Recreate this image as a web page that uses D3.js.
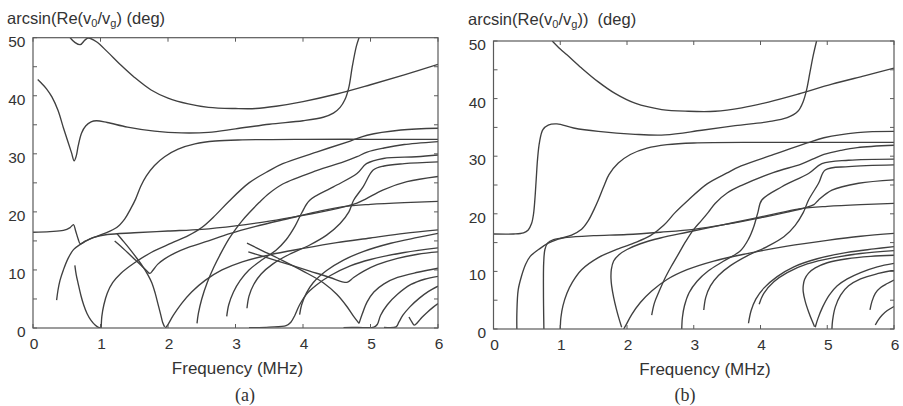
<!DOCTYPE html>
<html>
<head>
<meta charset="utf-8">
<script src="https://cdn.jsdelivr.net/npm/d3@7/dist/d3.min.js"></script>
<style>
  html, body { margin: 0; padding: 0; background: #fff; }
  svg { display: block; }
  .tick-label { font-family: "Liberation Sans", Arial, sans-serif; font-size: 15.5px; fill: #333; }
  .axis-title { font-family: "Liberation Sans", Arial, sans-serif; font-size: 16.5px; fill: #333; }
  .x-title { font-family: "Liberation Sans", Arial, sans-serif; font-size: 17px; fill: #333; }
  .panel-tag { font-family: "Liberation Serif", "Times New Roman", serif; font-size: 18px; fill: #333; }
</style>
</head>
<body>
<svg id="chart" width="903" height="406"></svg>
<script>
// Axis ticks (frequency in MHz, angle in degrees)
const xTickValues = [0, 1, 2, 3, 4, 5, 6];
const yTickValues = [0, 10, 20, 30, 40, 50];
const yMinorTicks = [5, 15, 25, 35, 45];
const xDomain = [0, 6];
const yDomain = [0, 50];

// ---- Panel (a): mode branches as [frequency MHz, angle deg] ----
const aTop = [[0.55,50],[0.62,49.2],[0.7,48.8],[0.77,49.6],[0.82,49.95],[0.94,49.3],[1.1,47.6],[1.3,45.3],[1.5,43.2],[1.75,41],[2.0,39.6],[2.3,38.6],[2.6,38.0],[3.0,37.8],[3.3,37.8],[3.6,38.2],[4.0,39.0],[4.5,40.3],[5.0,41.9],[5.5,43.6],[6.0,45.4]];
const aDip = [[0.07,42.8],[0.13,42.1],[0.2,41.2],[0.28,39.8],[0.37,37.5],[0.45,34.5],[0.52,32],[0.57,30.2],[0.61,28.8],[0.64,29.6],[0.67,31.4],[0.72,33.6],[0.78,34.8],[0.86,35.5],[0.94,35.7],[1.1,35.4],[1.4,34.6],[1.8,33.9],[2.2,33.6],[2.6,33.7],[3.0,34.3],[3.5,35.1],[4.0,35.7],[4.3,36.3],[4.45,37.0],[4.55,38.0],[4.62,39.3],[4.68,41.5],[4.73,45],[4.79,48.5],[4.83,50]];
const aFund = [[0.35,4.8],[0.37,6.5],[0.4,8.2],[0.45,10],[0.52,12],[0.6,13.5],[0.7,14.4],[0.84,15.3],[1.04,16.2],[1.24,17.3],[1.36,18.8],[1.45,20.6],[1.52,22.2],[1.6,24.5],[1.68,26.2],[1.8,28],[1.95,29.5],[2.15,30.8],[2.4,31.7],[2.7,32.2],[3.1,32.4],[4,32.5],[5,32.5],[6,32.5]];
const aFlatTop = [[0,16.5],[0.25,16.6],[0.45,16.8],[0.55,17.3],[0.6,17.8],[0.63,16.8],[0.67,15.3],[0.7,14.5],[0.78,15.0],[0.9,15.6],[1.1,16.1],[1.5,16.4],[2.0,16.7],[2.5,17.0],[3.0,17.6],[3.5,18.4],[4.0,19.4],[4.4,20.3],[4.65,21],[4.8,21.5],[4.94,22.3],[5.19,23.8],[5.54,25.2],[6,26.1]];
const aDrop = [[0.62,10.8],[0.64,9.2],[0.67,7.6],[0.71,5.6],[0.75,4.0],[0.8,2.5],[0.86,1.3],[0.92,0.5],[0.97,0.1],[1.0,0]];
const aRise1 = [[1.01,0],[1.02,2],[1.05,4],[1.1,6],[1.18,7.8],[1.3,9.4],[1.5,11.2],[1.75,13],[2.05,14.6],[2.3,15.9],[2.5,17.3],[2.7,19.4],[2.9,21.8],[3.2,25],[3.5,27.1],[3.7,28.3],[4.2,30.3],[4.7,32.2],[4.95,33.2],[5.45,34.1],[6,34.4]];
const aNotch = [[1.21,15.0],[1.3,14.1],[1.4,13.0],[1.5,11.9],[1.6,10.8],[1.68,9.9],[1.73,9.4],[1.78,10.0],[1.85,11.0],[1.95,11.9],[2.1,12.9],[2.3,13.9],[2.6,15.0],[2.9,16.2],[3.3,17.5],[3.8,18.9],[4.2,20.0],[4.6,20.9],[5.0,21.3],[5.5,21.6],[6,21.8]];
const aSlope1 = [[1.24,16.3],[1.32,15.2],[1.42,13.8],[1.52,12.3],[1.62,10.7],[1.7,9.2],[1.76,7.8],[1.81,6],[1.85,4.2],[1.89,2.4],[1.92,1.0],[1.95,0.2]];
const aRise2 = [[1.96,0],[2.0,0.6],[2.08,2.2],[2.2,4.2],[2.35,6.2],[2.55,8.2],[2.8,10],[3.1,11.4],[3.5,12.6],[4.0,13.7],[4.5,14.7],[5.0,15.5],[5.5,16.3],[6,16.9]];
const aSteep = [[2.43,0.8],[2.45,2.5],[2.5,5],[2.58,7.8],[2.68,10.5],[2.78,12.8],[2.9,15.3],[3.0,17],[3.1,18.5],[3.2,19.8],[3.35,21.6],[3.5,23.2],[3.7,24.8],[4.2,27.1],[4.6,28.6],[4.8,29.5],[4.95,30.3],[5.2,31],[5.5,31.6],[6,32.1]];
const aRise3 = [[2.87,2],[2.9,4],[2.97,6.2],[3.07,8.2],[3.2,10],[3.4,11.8],[3.6,13.4],[3.75,15.2],[3.88,17.5],[3.98,19.8],[4.1,22],[4.45,24.3],[4.8,26.6],[4.94,28.3],[5.19,29.2],[5.68,29.5],[6,29.8]];
const aRise4 = [[3.17,3.4],[3.2,5.5],[3.27,7.5],[3.38,9.3],[3.55,11],[3.8,12.7],[4.1,14.3],[4.35,16],[4.55,18],[4.68,20],[4.75,22],[4.89,24.3],[5.04,27.2],[5.2,27.9],[5.5,28.3],[6,28.6]];
const aFloor1 = [[3.2,0.05],[3.5,0.15],[3.75,0.4],[3.82,1],[3.88,2.2],[3.95,4],[4.05,5.8],[4.2,7.4],[4.4,9],[4.7,10.7],[5.0,11.8],[5.5,13],[6,13.8]];
const aRise5 = [[3.95,2.3],[3.98,4],[4.05,6],[4.15,7.8],[4.35,9.9],[4.6,11.7],[4.9,13.2],[5.3,14.6],[5.7,15.6],[6,16.3]];
const aSlope2 = [[3.17,14.6],[3.4,13.3],[3.7,11.6],[4.0,9.8],[4.3,7.8],[4.5,5.8],[4.65,3.7],[4.75,2],[4.83,0.8]];
const aSlope3 = [[3.19,13.1],[3.5,12.0],[3.8,10.9],[4.1,9.8],[4.4,8.7],[4.6,7.9],[4.66,7.9],[4.75,8.7],[4.9,9.8],[5.1,10.9],[5.4,12],[5.7,12.7],[6,13.1]];
const aRise6 = [[4.83,0.8],[4.88,2.5],[4.95,4.5],[5.05,6.2],[5.2,7.6],[5.4,8.7],[5.7,9.6],[6,10.3]];
const aFloor2 = [[4.6,0.05],[4.8,0.1],[5.05,0.15],[5.1,0.6],[5.15,2.2],[5.25,4],[5.4,5.8],[5.6,7.5],[5.8,8.4],[6,8.9]];
const aFloor3 = [[5.2,0.1],[5.38,0.2],[5.42,1],[5.48,2.2],[5.58,3.6],[5.72,5.1],[5.86,6.3],[6,7.2]];
const aKink = [[5.57,1.9],[5.61,1.1],[5.65,0.5],[5.7,1.0],[5.76,1.8],[5.85,2.8],[5.93,3.6],[6,4.2]];

const curvesA = [aTop, aDip, aFund, aFlatTop, aDrop, aRise1, aNotch, aSlope1, aRise2, aSteep, aRise3, aRise4, aFloor1, aRise5, aSlope2, aSlope3, aRise6, aFloor2, aFloor3, aKink];

// ---- Panel (b): mode branches as [frequency MHz, angle deg] ----
const bTop = [[0.88,50],[1.0,48.6],[1.1,47.6],[1.32,45.3],[1.57,42.9],[1.82,40.9],[2.12,39.2],[2.52,38.1],[2.92,37.8],[3.32,37.8],[3.72,38.4],[4.12,39.4],[4.57,40.8],[5.07,42.5],[5.57,44.0],[6,45.3]];
const bPlateau = [[0,16.5],[0.3,16.5],[0.45,16.7],[0.52,17.2],[0.57,18.3],[0.6,20],[0.62,22.5],[0.64,26],[0.66,29.5],[0.69,32.5],[0.74,34.6],[0.82,35.4],[0.95,35.6],[1.2,34.9],[1.57,34.3],[2.12,33.8],[2.57,33.7],[3.12,34.5],[3.62,35.3],[4.12,36.0],[4.4,36.7],[4.56,37.8],[4.64,39.5],[4.69,41.5],[4.74,44.5],[4.79,47.5],[4.84,50]];
const bFund = [[0.35,0],[0.35,2.7],[0.37,6.8],[0.42,9.2],[0.48,11.2],[0.55,12.6],[0.7,14.0],[0.82,14.9],[0.97,15.6],[1.17,16.3],[1.32,17.3],[1.42,18.8],[1.5,20.6],[1.57,22.4],[1.65,24.7],[1.73,26.8],[1.87,28.8],[2.05,30.3],[2.3,31.4],[2.6,32.0],[3.0,32.3],[4,32.4],[5,32.4],[6,32.4]];
const bWall = [[0.755,0],[0.75,4],[0.748,8],[0.752,11.5],[0.77,13.8],[0.81,14.9],[0.9,15.5],[1.1,15.9],[1.5,16.2],[2.0,16.4],[2.5,16.8],[3.0,17.3],[3.5,18.2],[4.0,19.3],[4.4,20.3],[4.65,21],[4.8,21.6],[4.87,22.4],[5.07,24.1],[5.47,25.3],[6,25.9]];
const bRise1 = [[1.0,0],[1.01,2],[1.04,4],[1.1,6.2],[1.18,8.1],[1.32,10.3],[1.57,12.4],[1.82,13.7],[2.1,14.9],[2.35,16.2],[2.55,18],[2.72,20.2],[2.92,22.4],[3.2,25.2],[3.5,27.1],[3.71,28.3],[4.2,30.3],[4.7,32.3],[4.95,33.2],[5.45,34.1],[6,34.3]];
const bHook = [[1.92,0.3],[1.88,1.8],[1.84,3.5],[1.8,5.5],[1.77,7.5],[1.76,8.8],[1.765,10.3],[1.8,11.8],[1.88,12.9],[2.0,13.8],[2.2,14.8],[2.5,15.8],[2.9,16.8],[3.4,18],[3.9,19.2],[4.3,20.2],[4.6,20.9],[5.0,21.3],[5.5,21.6],[6,21.8]];
const bRise2 = [[1.95,0],[1.99,0.8],[2.07,2.5],[2.2,4.6],[2.37,6.6],[2.6,8.6],[2.9,10.3],[3.3,11.8],[3.8,13.1],[4.4,14.4],[5.0,15.4],[5.5,16.1],[6,16.6]];
const bSteep = [[2.37,2.4],[2.41,4.5],[2.48,6.5],[2.56,8.6],[2.66,10.8],[2.77,13],[2.88,15.2],[3.0,17.3],[3.12,18.9],[3.22,20.3],[3.32,21.8],[3.5,23.6],[3.71,24.9],[4.2,27.2],[4.6,28.6],[4.8,29.6],[4.95,30.3],[5.2,31],[5.45,31.5],[6,31.9]];
const bRise3 = [[2.82,0],[2.83,2],[2.86,4],[2.93,6.3],[3.05,8.3],[3.22,10.1],[3.45,11.8],[3.7,13.6],[3.82,15.6],[3.9,17.8],[3.96,20.2],[4.02,22.4],[4.32,24.7],[4.72,27],[4.92,28.7],[5.32,29.3],[6,29.5]];
const bRise4 = [[3.15,3.3],[3.18,5.5],[3.25,7.5],[3.37,9.3],[3.55,11],[3.8,12.7],[4.1,14.3],[4.35,16],[4.52,18],[4.64,20.2],[4.72,22.4],[4.87,25.3],[4.97,27.6],[5.32,28.2],[6,28.5]];
const bRise5 = [[3.82,1],[3.86,3.2],[3.93,5.2],[4.05,7.1],[4.25,9.1],[4.5,10.8],[4.85,12.2],[5.3,13.3],[5.7,13.9],[6,14.3]];
const bRise6 = [[3.98,4.3],[4.05,6.2],[4.2,8.2],[4.4,9.8],[4.7,11.3],[5.1,12.4],[5.5,13.1],[6,13.6]];
const bHook2 = [[4.81,0.4],[4.77,1.5],[4.72,3],[4.67,4.8],[4.64,6.5],[4.64,7.5],[4.66,8.6],[4.72,9.7],[4.82,10.6],[5.0,11.5],[5.3,12.2],[5.65,12.6],[6,12.8]];
const bRise7 = [[4.82,0.3],[4.86,1.8],[4.93,3.8],[5.03,5.9],[5.15,7.5],[5.3,8.7],[5.5,9.8],[5.75,10.8],[6,11.4]];
const bRise8 = [[5.07,0],[5.08,1.5],[5.12,3.8],[5.2,5.9],[5.32,7.5],[5.5,8.7],[5.75,9.6],[6,10.2]];
const bRise9 = [[5.64,3.3],[5.67,4.8],[5.72,6.2],[5.8,7.2],[5.9,7.9],[6,8.5]];
const bRise10 = [[5.72,0.7],[5.76,1.5],[5.82,2.4],[5.9,3.2],[6,3.9]];

const curvesB = [bTop, bPlateau, bFund, bWall, bRise1, bHook, bRise2, bSteep, bRise3, bRise4, bRise5, bRise6, bHook2, bRise7, bRise8, bRise9, bRise10];

const svg = d3.select("#chart");

function drawPanel(cfg) {
  const x = d3.scaleLinear().domain(xDomain).range([cfg.left, cfg.right]);
  const y = d3.scaleLinear().domain(yDomain).range([cfg.bottom, cfg.top]);
  const g = svg.append("g");

  // mode curves, clipped to the plot box
  const clipId = "clip-" + cfg.id;
  svg.append("clipPath").attr("id", clipId)
    .append("rect")
    .attr("x", cfg.left).attr("y", cfg.top)
    .attr("width", cfg.right - cfg.left).attr("height", cfg.bottom - cfg.top);

  const line = d3.line()
    .x(d => x(d[0]))
    .y(d => y(d[1]))
    .curve(d3.curveCatmullRom.alpha(0.5));

  g.append("g").attr("clip-path", `url(#${clipId})`)
    .selectAll("path")
    .data(cfg.curves)
    .join("path")
    .attr("d", line)
    .attr("fill", "none")
    .attr("stroke", "#404040")
    .attr("stroke-width", 1.35)
    .attr("stroke-linejoin", "round");

  // frame
  g.append("rect")
    .attr("x", cfg.left).attr("y", cfg.top)
    .attr("width", cfg.right - cfg.left).attr("height", cfg.bottom - cfg.top)
    .attr("fill", "none").attr("stroke", "#5a5a5a").attr("stroke-width", 1.2);

  // inward ticks on all four sides
  const tickLen = 4;
  const tickStyle = sel => sel.attr("stroke", "#5a5a5a").attr("stroke-width", 1);
  const xt = g.append("g");
  xTickValues.forEach(v => {
    xt.append("line").attr("x1", x(v)).attr("x2", x(v)).attr("y1", cfg.bottom).attr("y2", cfg.bottom - tickLen).call(tickStyle);
    xt.append("line").attr("x1", x(v)).attr("x2", x(v)).attr("y1", cfg.top).attr("y2", cfg.top + tickLen).call(tickStyle);
  });
  yTickValues.concat(yMinorTicks).forEach(v => {
    xt.append("line").attr("x1", cfg.left).attr("x2", cfg.left + tickLen).attr("y1", y(v)).attr("y2", y(v)).call(tickStyle);
    xt.append("line").attr("x1", cfg.right).attr("x2", cfg.right - tickLen).attr("y1", y(v)).attr("y2", y(v)).call(tickStyle);
  });

  // tick labels
  g.selectAll(".xl").data(xTickValues).join("text")
    .attr("class", "tick-label")
    .attr("x", d => x(d) + 1)
    .attr("y", cfg.bottom + 20.5)
    .attr("text-anchor", "middle")
    .text(d => d);
  g.selectAll(".yl").data(yTickValues).join("text")
    .attr("class", "tick-label")
    .attr("x", cfg.left - 7.5)
    .attr("y", d => y(d) + 9)
    .attr("text-anchor", "end")
    .text(d => d);

  // y-axis title with subscripts
  const t = g.append("text").attr("class", "axis-title")
    .attr("x", cfg.titleX).attr("y", cfg.titleY)
    .attr("xml:space", "preserve");
  t.append("tspan").text("arcsin(Re(v");
  t.append("tspan").attr("font-size", "11px").attr("dy", 3).text("0");
  t.append("tspan").attr("dy", -3).text("/v");
  t.append("tspan").attr("font-size", "11px").attr("dy", 3).text("g");
  t.append("tspan").attr("dy", -3).text(cfg.titleTail);

  // x-axis title and panel tag
  g.append("text").attr("class", "x-title")
    .attr("x", cfg.xTitleX).attr("y", cfg.bottom + 45.5)
    .attr("text-anchor", "middle")
    .text("Frequency (MHz)");
  g.append("text").attr("class", "panel-tag")
    .attr("x", cfg.tagX).attr("y", 401)
    .attr("text-anchor", "middle")
    .text(cfg.tag);
}

drawPanel({
  id: "a", tag: "(a)", curves: curvesA,
  left: 33, right: 438, top: 37.7, bottom: 328,
  titleX: 7, titleY: 24, titleTail: ") (deg)",
  xTitleX: 237.5, tagX: 245
});
drawPanel({
  id: "b", tag: "(b)", curves: curvesB,
  left: 493.5, right: 894, top: 41, bottom: 329,
  titleX: 468, titleY: 25, titleTail: "))\u00A0\u00A0(deg)",
  xTitleX: 705, tagX: 685
});
</script>
</body>
</html>
